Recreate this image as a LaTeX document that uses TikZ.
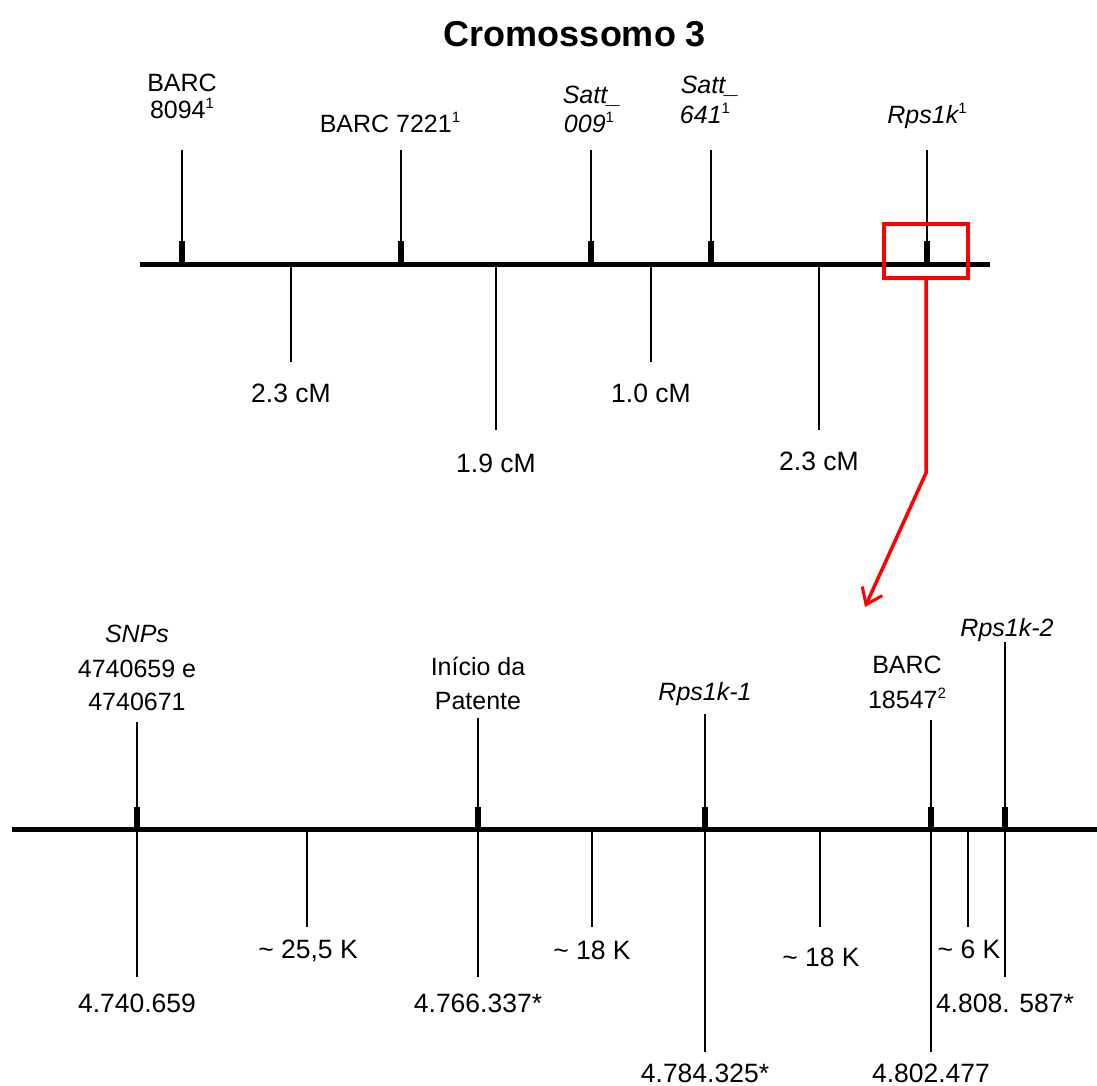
\documentclass[tikz,border=0pt]{standalone}
\usepackage{fontspec}
\setmainfont{Liberation Sans}
\usetikzlibrary{arrows.meta}
\definecolor{zoomred}{RGB}{255,0,0}
\newcommand{\supmark}[1]{\raisebox{0.4em}{\upshape\fontsize{15}{15}\selectfont #1}}
\begin{document}
\begin{tikzpicture}[x=1pt,y=-1pt,
  chrom/.style={line width=5pt},
  tickline/.style={line width=2pt},
  markbar/.style={line width=6pt},
  namelbl/.style={font=\fontsize{25}{26}\selectfont, inner sep=0pt, anchor=base},
  numlbl/.style={font=\fontsize{26.5}{28}\selectfont, inner sep=0pt, anchor=base},
  titlelbl/.style={font=\fontsize{36}{38}\selectfont\bfseries, inner sep=0pt, anchor=base},
  zoomframe/.style={draw=zoomred, line width=4pt, minimum width=84pt, minimum height=54pt, inner sep=0pt},
  zoomarrow/.style={draw=zoomred, line width=3.5pt, -{Straight Barb[length=15pt,width=22pt,line width=3pt]}}
]
\useasboundingbox (0,0) rectangle (1097,1086);

% ---------- title ----------
\node[titlelbl] (title) at (575,47) {Cromossomo 3};

% ---------- upper chromosome ----------
\coordinate (c1L) at (140,264);
\coordinate (c1R) at (990,264);
\draw[chrom] (c1L) -- (c1R);

% markers (up)
\coordinate (m1t) at (182,150);  \coordinate (m1b) at (182,264); \coordinate (m1k) at (182,241);
\coordinate (m2t) at (401,150);  \coordinate (m2b) at (401,264); \coordinate (m2k) at (401,241);
\coordinate (m3t) at (591,150);  \coordinate (m3b) at (591,264); \coordinate (m3k) at (591,241);
\coordinate (m4t) at (711,150);  \coordinate (m4b) at (711,264); \coordinate (m4k) at (711,241);
\coordinate (m5t) at (927,150);  \coordinate (m5b) at (927,264); \coordinate (m5k) at (927,241);
\foreach \m in {m1,m2,m3,m4,m5}{
  \draw[tickline] (\m t) -- (\m b);
  \draw[markbar] (\m k) -- (\m b);
}

\node[namelbl] (barcA1) at (182,92) {BARC};
\node[namelbl] (barcA2) at (182,119) {8094\supmark{1}};
\node[namelbl] (barcB)  at (390,133) {BARC 7221\supmark{1}};
\node[namelbl] (sattA1) at (592,104) {\itshape Satt\_};
\node[namelbl] (sattA2) at (589,133) {\itshape 009\supmark{1}};
\node[namelbl] (sattB1) at (710,94) {\itshape Satt\_};
\node[namelbl] (sattB2) at (705,124) {\itshape 641\supmark{1}};
\node[namelbl] (rpsA)   at (927,124) {\itshape Rps1k\supmark{1}};

% distances (down)
\coordinate (d1t) at (291,264); \coordinate (d1b) at (291,362);
\coordinate (d2t) at (496,264); \coordinate (d2b) at (496,430);
\coordinate (d3t) at (651,264); \coordinate (d3b) at (651,362);
\coordinate (d4t) at (819,264); \coordinate (d4b) at (819,430);
\foreach \d in {d1,d2,d3,d4}{ \draw[tickline] (\d t) -- (\d b); }

\node[numlbl] (cm1) at (291,402) {2.3 cM};
\node[numlbl] (cm2) at (496,472) {1.9 cM};
\node[numlbl] (cm3) at (651,402) {1.0 cM};
\node[numlbl] (cm4) at (819,470) {2.3 cM};

% zoom frame and arrow
\node[zoomframe] (zoombox) at (926,251) {};
\coordinate (bend) at (926,473);
\coordinate (arrtip) at (865,607);
\draw[zoomarrow] (zoombox.south) -- (bend) -- (arrtip);

% ---------- lower chromosome ----------
\coordinate (c2L) at (12,829);
\coordinate (c2R) at (1097,829);
\draw[chrom] (c2L) -- (c2R);

% markers (through)
\coordinate (n1t) at (137,722);  \coordinate (n1b) at (137,977);  \coordinate (n1k) at (137,807); \coordinate (n1c) at (137,829);
\coordinate (n2t) at (478,718);  \coordinate (n2b) at (478,977);  \coordinate (n2k) at (478,807); \coordinate (n2c) at (478,829);
\coordinate (n3t) at (705,714);  \coordinate (n3b) at (705,1052); \coordinate (n3k) at (705,807); \coordinate (n3c) at (705,829);
\coordinate (n4t) at (931,720);  \coordinate (n4b) at (931,1052); \coordinate (n4k) at (931,807); \coordinate (n4c) at (931,829);
\coordinate (n5t) at (1005,642); \coordinate (n5b) at (1005,977); \coordinate (n5k) at (1005,807); \coordinate (n5c) at (1005,829);
\foreach \n in {n1,n2,n3,n4,n5}{
  \draw[tickline] (\n t) -- (\n b);
  \draw[markbar] (\n k) -- (\n c);
}

\node[namelbl] (snp1) at (137,642) {\itshape SNPs};
\node[namelbl] (snp2) at (137,677) {4740659 e};
\node[namelbl] (snp3) at (137,710) {4740671};
\node[namelbl] (ini1) at (478,675) {Início da};
\node[namelbl] (ini2) at (478,709) {Patente};
\node[namelbl] (rpsB) at (705,700) {\itshape Rps1k-1};
\node[namelbl] (barcC1) at (907,673) {BARC};
\node[namelbl] (barcC2) at (907,708) {18547\supmark{2}};
\node[namelbl] (rpsC) at (1007,636) {\itshape Rps1k-2};

% distances (down)
\coordinate (e1t) at (307,829); \coordinate (e1b) at (307,927);
\coordinate (e2t) at (592,829); \coordinate (e2b) at (592,927);
\coordinate (e3t) at (820,829); \coordinate (e3b) at (820,927);
\coordinate (e4t) at (968,829); \coordinate (e4b) at (968,927);
\foreach \e in {e1,e2,e3,e4}{ \draw[tickline] (\e t) -- (\e b); }

\node[numlbl] (k1) at (308,958) {\char"007E{} 25,5 K};
\node[numlbl] (k2) at (592,959) {\char"007E{} 18 K};
\node[numlbl] (k3) at (821,966) {\char"007E{} 18 K};
\node[numlbl] (k4) at (969,958) {\char"007E{} 6 K};

\node[numlbl] (p1) at (137,1012) {4.740.659};
\node[numlbl] (p2) at (478,1012) {4.766.337*};
\node[numlbl] (p3) at (705,1082) {4.784.325*};
\node[numlbl] (p4) at (931,1082) {4.802.477};
\node[numlbl] (p5) at (1005,1012) {4.808. 587*};
\end{tikzpicture}
\end{document}
